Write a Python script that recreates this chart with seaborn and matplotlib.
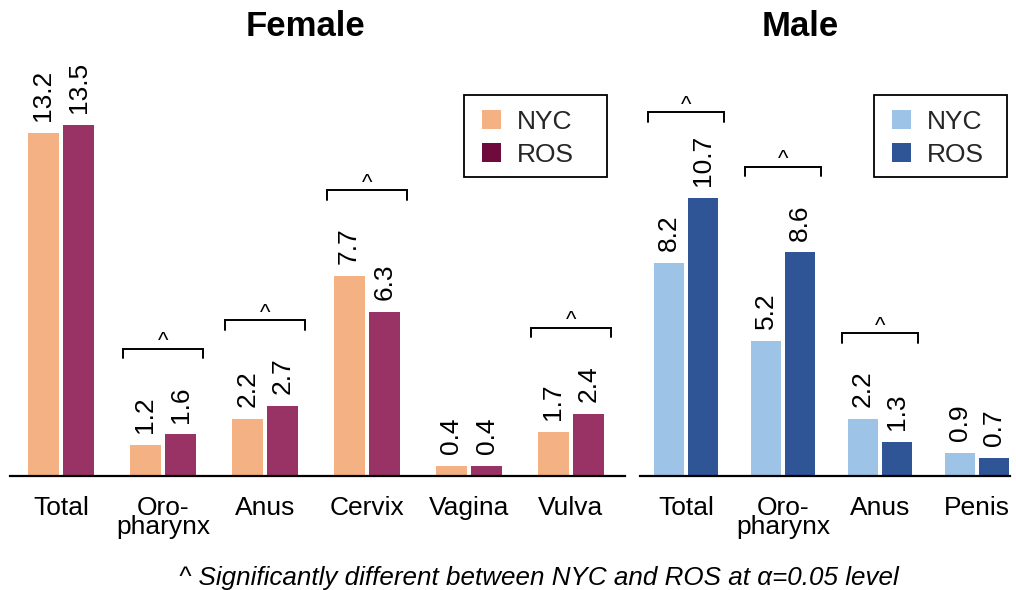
import numpy as np
import pandas as pd
import matplotlib
matplotlib.use("Agg")
import matplotlib.pyplot as plt
import seaborn as sns
from matplotlib.patches import Patch, Rectangle

# ---- data ----
female_sites = ["Total", "Oro-\npharynx", "Anus", "Cervix", "Vagina", "Vulva"]
female_nyc = [13.2, 1.2, 2.2, 7.7, 0.4, 1.7]
female_ros = [13.5, 1.6, 2.7, 6.3, 0.4, 2.4]
female_sig = [False, True, True, True, False, True]

male_sites = ["Total", "Oro-\npharynx", "Anus", "Penis"]
male_nyc = [8.2, 5.2, 2.2, 0.9]
male_ros = [10.7, 8.6, 1.3, 0.7]
male_sig = [True, True, True, False]

regions = ["NYC", "ROS"]
footnote = "^ Significantly different between NYC and ROS at α=0.05 level"

sns.set_theme(style="white")
plt.rcParams["font.family"] = ["Liberation Sans", "DejaVu Sans"]

W, H = 1016, 590
fig = plt.figure(figsize=(W / 100, H / 100), dpi=100)

base_px = 476
top_px = 50
scale = 26.0  # px per unit
ymax = (base_px - top_px) / scale


def px_axes(left, right):
    return fig.add_axes([left / W, (H - base_px) / H, (right - left) / W, (base_px - top_px) / H])


def draw(ax, sites, nyc, ros, sig, colors, legend_colors, title, xlim, gap, legend_box_px, title_x_px):
    df = pd.DataFrame({
        "site": sites * 2,
        "region": [regions[0]] * len(sites) + [regions[1]] * len(sites),
        "value": list(nyc) + list(ros),
    })
    sns.barplot(data=df, x="site", y="value", hue="region", order=sites,
                hue_order=regions, palette=colors, width=0.7, gap=gap,
                saturation=1, ax=ax, legend=False, errorbar=None, linewidth=0)
    ax.set_xlim(*xlim)
    ax.set_ylim(0, ymax)
    ax.set_xlabel("")
    ax.set_ylabel("")
    ax.set_yticks([])
    for s in ["top", "right", "left"]:
        ax.spines[s].set_visible(False)
    ax.spines["bottom"].set_color("black")
    ax.spines["bottom"].set_linewidth(1.6)
    ax.tick_params(axis="x", length=0, labelsize=19, pad=14.5, colors="black")
    for lbl in ax.get_xticklabels():
        lbl.set_linespacing(0.74)
        lbl.set_verticalalignment("top")
    # value labels
    for cont in ax.containers:
        for bar in cont:
            h = bar.get_height()
            ax.annotate(f"{h:.1f}", (bar.get_x() + bar.get_width() / 2, h),
                        xytext=(0, 8.5), textcoords="offset points",
                        rotation=90, ha="center", va="bottom", fontsize=19, color="black")
    # significance brackets
    for i, s in enumerate(sig):
        if not s:
            continue
        yb = max(nyc[i], ros[i]) + 3.3
        x0, x1 = i - 0.39, i + 0.39
        ax.plot([x0, x0, x1, x1], [yb - 0.37, yb, yb, yb - 0.37], color="black", lw=1.4,
                solid_joinstyle="miter", clip_on=False)
        ax.annotate("^", (i, yb), xytext=(0, 1), textcoords="offset points",
                    ha="center", va="baseline", fontsize=16, color="black")
    # legend
    bx0, by0, bx1, by1 = legend_box_px
    frame = Rectangle((bx0 / W, 1 - by1 / H), (bx1 - bx0) / W, (by1 - by0) / H,
                      transform=fig.transFigure, facecolor="white",
                      edgecolor="black", linewidth=1.3, zorder=5, clip_on=False)
    ax.add_artist(frame)
    handles = [Patch(facecolor=c, edgecolor="none") for c in legend_colors]
    leg = ax.legend(handles, regions, loc="upper left",
                    bbox_to_anchor=((bx0 + 18) / W, 1 - (by0 + 15) / H),
                    bbox_transform=fig.transFigure,
                    frameon=False, fontsize=19,
                    handlelength=0.73, handleheight=0.73, handletextpad=0.6,
                    borderpad=0, labelspacing=0.33, borderaxespad=0)
    leg.set_zorder(10)
    fig.text(title_x_px / W, 1 - 27 / H, title, ha="center", va="center",
             fontsize=25, fontweight="bold", color="black")


ax1 = px_axes(10, 625)
draw(ax1, female_sites, female_nyc, female_ros, female_sig,
     ["#F4B183", "#993366"], ["#F4B183", "#6E0A3C"], "Female",
     (-0.5, 5.53), 0.13, (464, 95, 607, 177), 305)

ax2 = px_axes(640, 1010)
draw(ax2, male_sites, male_nyc, male_ros, male_sig,
     ["#9DC3E6", "#2F5597"], ["#9DC3E6", "#2F5597"], "Male",
     (-0.474, 3.34), 0.09, (874, 95, 1007, 177), 800)

fig.text(539 / W, 1 - 578 / H, footnote, ha="center", va="center",
         fontsize=18.7, fontstyle="italic", color="black")

fig.savefig("out.png", dpi=100)
